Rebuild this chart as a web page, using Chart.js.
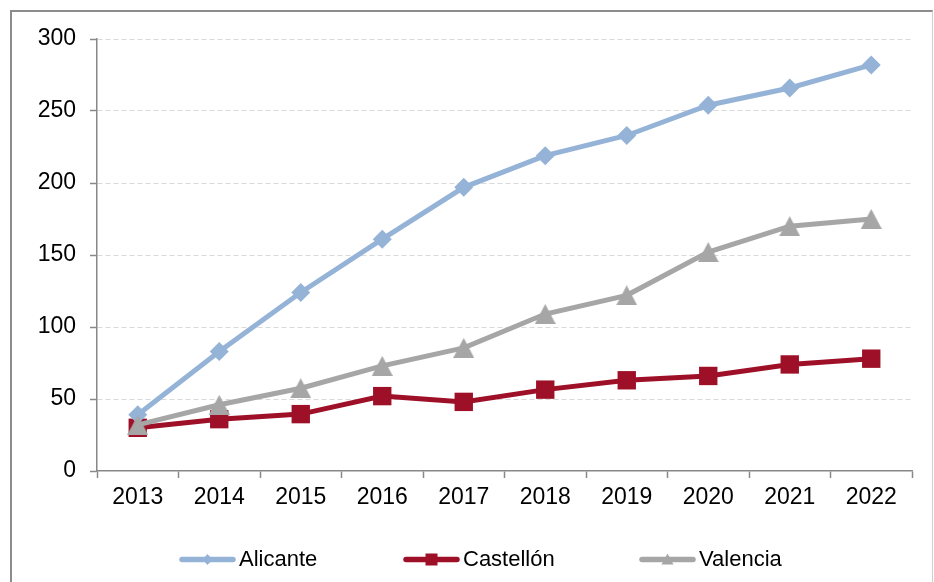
<!DOCTYPE html>
<html><head><meta charset="utf-8">
<script src="https://cdn.jsdelivr.net/npm/chart.js@4"></script>
<style>
html,body{margin:0;padding:0;background:#fff;}
#wrap{position:relative;width:934px;height:582px;overflow:hidden;background:#fff;}
#frame{position:absolute;left:10px;top:10px;width:920px;height:600px;border-top:2px solid #8c8c8c;border-left:2px solid #8c8c8c;border-right:1px solid #cfcfcf;pointer-events:none;}
canvas{position:absolute;left:0;top:0;}
</style></head><body>
<div id="wrap"><canvas id="c" width="934" height="582"></canvas><div id="frame"></div></div>
<script>
const categories = ['2013','2014','2015','2016','2017','2018','2019','2020','2021','2022'];
const alicante  = [39, 83, 124, 161, 197, 219, 233, 254, 266, 282];
const castellon = [30, 36, 39.5, 52, 48, 56.5, 63, 66, 74, 78];
const valencia  = [32, 46, 57.5, 73, 85.5, 109, 122, 152, 170, 175];
const yTicks = [0, 50, 100, 150, 200, 250, 300];
const seriesNames = ['Alicante', 'Castellón', 'Valencia'];

const C_ALI = '#95B3D7', C_CAS = '#9E1027', C_VAL = '#A6A6A6';
const FONT = '"Liberation Sans", Arial, sans-serif';

function triangleImage(w, h, color) {
  const cv = document.createElement('canvas');
  cv.width = w; cv.height = h;
  const g = cv.getContext('2d');
  g.fillStyle = color;
  g.beginPath();
  g.moveTo(w / 2, 0); g.lineTo(w, h); g.lineTo(0, h); g.closePath();
  g.fill();
  return cv;
}
const triImg = triangleImage(21, 20, C_VAL);

function drawMarker(ctx, kind, x, y, color) {
  ctx.fillStyle = color;
  ctx.beginPath();
  if (kind === 'diamond') {
    const r = 5.5;
    ctx.moveTo(x, y - r); ctx.lineTo(x + r * 0.9, y); ctx.lineTo(x, y + r); ctx.lineTo(x - r * 0.9, y);
  } else if (kind === 'square') {
    const s = 6;
    ctx.rect(x - s, y - s, 2 * s, 2 * s);
  } else {
    ctx.moveTo(x, y - 6); ctx.lineTo(x + 6, y + 5); ctx.lineTo(x - 6, y + 5);
  }
  ctx.closePath();
  ctx.fill();
}

const markers = ['diamond', 'square', 'triangle'];
const legendPlugin = {
  id: 'customLegend',
  afterDraw(chart) {
    const ctx = chart.ctx;
    const yLine = 559.5;
    const starts = [179, 403, 639];
    ctx.save();
    chart.data.datasets.forEach((ds, i) => {
      const x = starts[i];
      ctx.strokeStyle = ds.borderColor; ctx.lineWidth = 5.5; ctx.lineCap = 'round';
      ctx.beginPath(); ctx.moveTo(x + 3, yLine); ctx.lineTo(x + 54, yLine); ctx.stroke();
      drawMarker(ctx, markers[i], x + 28.5, yLine, ds.borderColor);
      ctx.font = '22px ' + FONT;
      ctx.fillStyle = '#000';
      ctx.textBaseline = 'alphabetic';
      ctx.textAlign = 'left';
      ctx.fillText(ds.label, x + 60, 566);
    });
    ctx.restore();
  }
};

new Chart(document.getElementById('c'), {
  type: 'line',
  data: {
    labels: categories,
    datasets: [
      { label: seriesNames[0], data: alicante, borderColor: C_ALI, backgroundColor: C_ALI,
        borderWidth: 5, pointStyle: 'rectRot', pointRadius: 9.5, pointBorderWidth: 0,
        pointBackgroundColor: C_ALI, tension: 0, order: 1 },
      { label: seriesNames[1], data: castellon, borderColor: C_CAS, backgroundColor: C_CAS,
        borderWidth: 5, pointStyle: 'rect', pointRadius: 13, pointBorderWidth: 0,
        pointBackgroundColor: C_CAS, tension: 0, order: 2 },
      { label: seriesNames[2], data: valencia, borderColor: C_VAL, backgroundColor: C_VAL,
        borderWidth: 5, pointStyle: triImg, pointRadius: 10, pointBorderWidth: 0,
        pointBackgroundColor: C_VAL, tension: 0, order: 0 }
    ]
  },
  options: {
    responsive: false,
    animation: false,
    devicePixelRatio: 1,
    layout: { padding: { top: 39, right: 22, left: 0, bottom: 0 } },
    plugins: { legend: { display: false }, tooltip: { enabled: false } },
    scales: {
      x: {
        offset: true,
        grid: { offset: true, drawOnChartArea: false, tickLength: 7, tickColor: '#888', tickWidth: 1.5 },
        border: { color: '#888', width: 1.5 },
        ticks: { color: '#000', font: { family: FONT, size: 23 }, padding: 6, maxRotation: 0, autoSkip: false },
        afterFit(scale) { scale.height = 111; }
      },
      y: {
        min: 0, max: 300,
        afterBuildTicks(scale) { scale.ticks = yTicks.map(v => ({ value: v })); },
        grid: { color: (c) => c.tick && c.tick.value === 0 ? 'rgba(0,0,0,0)' : '#D9D9D9', lineWidth: 1,
                tickLength: 7, tickColor: '#888', tickWidth: 1.5, tickBorderDash: [] },
        border: { color: '#888', width: 1.5, dash: [5, 3] },
        ticks: { color: '#000', font: { family: FONT, size: 23 }, padding: 14 },
        afterFit(scale) { scale.width = 97; }
      }
    }
  },
  plugins: [legendPlugin]
});
</script>
</body></html>
